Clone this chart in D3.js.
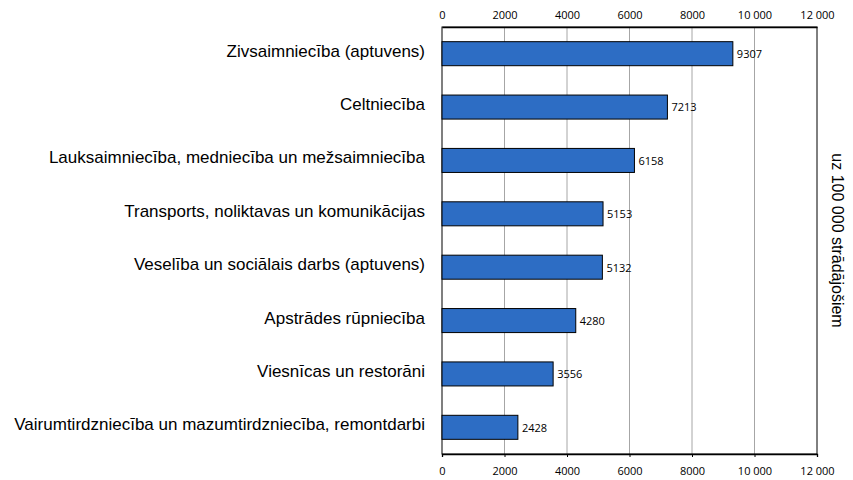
<!DOCTYPE html>
<html>
<head>
<meta charset="utf-8">
<script src="https://cdn.jsdelivr.net/npm/d3@7"></script>
<style>
  body { margin: 0; background: #fff; }
  svg { display: block; }
</style>
</head>
<body>
<svg id="chart" width="853" height="480"></svg>
<script>
const categories = [
  "Zivsaimniecība (aptuvens)",
  "Celtniecība",
  "Lauksaimniecība, medniecība un mežsaimniecība",
  "Transports, noliktavas un komunikācijas",
  "Veselība un sociālais darbs (aptuvens)",
  "Apstrādes rūpniecība",
  "Viesnīcas un restorāni",
  "Vairumtirdzniecība un mazumtirdzniecība, remontdarbi"
];
const values = [9307, 7213, 6158, 5153, 5132, 4280, 3556, 2428];
const tickValues = [0, 2000, 4000, 6000, 8000, 10000, 12000];
const tickLabels = ["0", "2000", "4000", "6000", "8000", "10 000", "12 000"];
const axisTitle = "uz 100 000 strādājošiem";

const svg = d3.select("#chart");
const margin = { left: 442, right: 36, top: 27, bottom: 26 };
const W = 853, H = 480;
const x = d3.scaleLinear().domain([0, 12000]).range([margin.left, W - margin.right]);
const y = d3.scaleBand().domain(categories).range([margin.top, H - margin.bottom]).paddingInner(0.55).paddingOuter(0.275);

const tickFont = "'Open Sans', 'DejaVu Sans', sans-serif";

// vertical gridlines
svg.append("g").selectAll("line").data(tickValues.slice(1, -1)).join("line")
  .attr("x1", d => x(d)).attr("x2", d => x(d))
  .attr("y1", margin.top).attr("y2", H - margin.bottom)
  .attr("stroke", "#a6a6a6").attr("stroke-width", 1);

// plot frame
svg.append("rect")
  .attr("x", x(0)).attr("y", margin.top)
  .attr("width", x(12000) - x(0)).attr("height", H - margin.bottom - margin.top)
  .attr("fill", "none").attr("stroke", "#000").attr("stroke-width", 1);

// bars
svg.append("g").selectAll("rect").data(values).join("rect")
  .attr("x", x(0))
  .attr("y", (d, i) => y(categories[i]))
  .attr("width", d => x(d) - x(0))
  .attr("height", y.bandwidth())
  .attr("fill", "#2d6dc4")
  .attr("stroke", "#000").attr("stroke-width", 1);

// value labels
svg.append("g").selectAll("text").data(values).join("text")
  .attr("x", d => x(d) + 4)
  .attr("y", (d, i) => y(categories[i]) + y.bandwidth() / 2)
  .attr("dy", "0.4em")
  .attr("font-family", tickFont).attr("font-size", 11).attr("fill", "#000")
  .text(d => d);

// category labels
svg.append("g").selectAll("text").data(categories).join("text")
  .attr("x", margin.left - 17)
  .attr("y", d => y(d) + y.bandwidth() / 2 - 3)
  .attr("dy", "0.35em")
  .attr("text-anchor", "end")
  .attr("font-family", "'Liberation Sans', Arial, sans-serif").attr("font-size", 17).attr("fill", "#000")
  .text(d => d);

// top and bottom axes
const fmt = d => tickLabels[tickValues.indexOf(d)];
const topAxis = d3.axisTop(x).tickValues(tickValues).tickFormat(fmt).tickSize(0).tickPadding(8);
const bottomAxis = d3.axisBottom(x).tickValues(tickValues).tickFormat(fmt).tickSize(3).tickPadding(10);

const gt = svg.append("g").attr("transform", `translate(0,${margin.top})`).call(topAxis);
const gb = svg.append("g").attr("transform", `translate(0,${H - margin.bottom})`).call(bottomAxis);
[gt, gb].forEach(g => {
  g.select(".domain").attr("stroke", "#000").attr("stroke-width", 1.3);
  g.selectAll(".tick line").attr("stroke", "#000");
  g.selectAll("text").attr("font-family", tickFont).attr("font-size", 11).attr("fill", "#000");
});

// right-hand axis title
svg.append("text")
  .attr("transform", `translate(838,${(margin.top + H - margin.bottom) / 2}) rotate(90)`)
  .attr("text-anchor", "middle").attr("dy", "0.35em")
  .attr("font-family", "'Liberation Sans', Arial, sans-serif").attr("font-size", 16).attr("fill", "#000")
  .text(axisTitle);
</script>
</body>
</html>
